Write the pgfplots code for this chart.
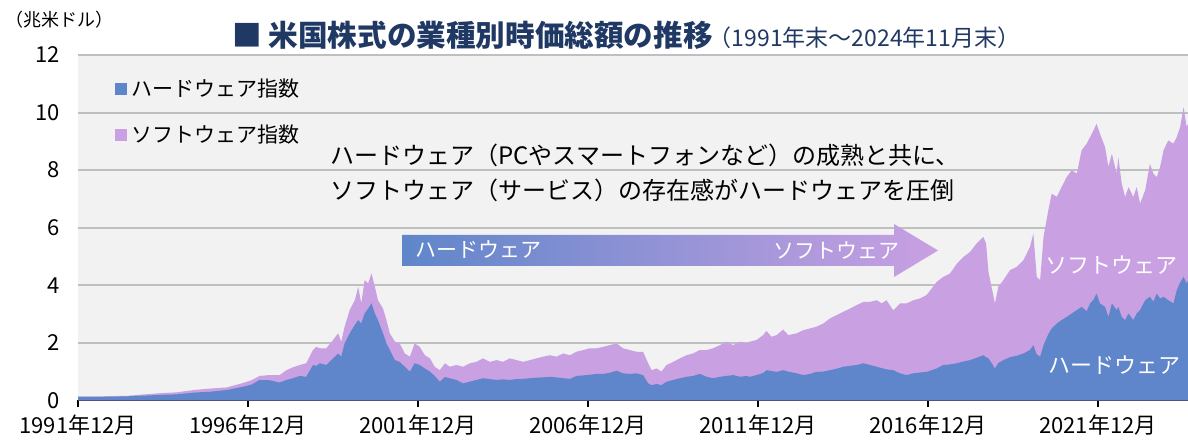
\documentclass[border=0pt]{standalone}
\usepackage{pgfplots}
\pgfplotsset{compat=1.18}
\usepackage{pgfplotstable}
\usepackage{fontspec}
\setmainfont{Noto Sans CJK JP}
\definecolor{hwc}{HTML}{5F86CA}
\definecolor{swc}{HTML}{C9A0E2}
\definecolor{bgc}{HTML}{F2F2F2}
\definecolor{gridc}{HTML}{BFBFBF}
\definecolor{navy}{HTML}{203864}

\pgfplotstableread{
t hw tot
1991.92 0.12 0.14
1992.50 0.12 0.14
1993.35 0.14 0.16
1994.32 0.19 0.25
1994.82 0.21 0.28
1995.32 0.27 0.36
1995.79 0.30 0.41
1996.29 0.36 0.45
1996.79 0.48 0.61
1997.02 0.55 0.70
1997.26 0.71 0.85
1997.55 0.70 0.88
1997.85 0.62 0.88
1998.05 0.71 1.05
1998.24 0.77 1.15
1998.44 0.85 1.23
1998.63 0.82 1.29
1998.83 1.23 1.75
1998.93 1.20 1.86
1999.03 1.29 1.81
1999.22 1.23 1.81
1999.42 1.46 2.10
1999.57 1.63 2.33
1999.66 1.52 2.04
1999.76 1.98 2.56
1999.91 2.33 3.14
2000.06 2.62 3.48
2000.16 2.79 3.95
2000.25 2.67 3.37
2000.35 3.02 4.18
2000.45 3.19 4.06
2000.55 3.37 4.41
2000.65 3.02 3.95
2000.74 2.79 3.48
2000.89 2.33 3.19
2000.99 1.98 2.79
2001.09 1.75 2.33
2001.24 1.40 2.04
2001.38 1.34 1.98
2001.53 1.17 1.63
2001.68 1.00 1.52
2001.82 1.29 1.98
2001.97 1.23 1.86
2002.12 1.11 1.57
2002.27 1.00 1.46
2002.41 0.85 1.17
2002.56 0.65 1.05
2002.71 0.81 1.29
2002.85 0.77 1.17
2003.05 0.71 1.23
2003.25 0.59 1.17
2003.44 0.65 1.29
2003.64 0.71 1.34
2003.83 0.77 1.46
2004.03 0.74 1.34
2004.23 0.71 1.40
2004.42 0.73 1.34
2004.62 0.71 1.46
2004.82 0.74 1.40
2005.01 0.75 1.34
2005.21 0.77 1.40
2005.40 0.79 1.46
2005.60 0.80 1.52
2005.80 0.82 1.57
2005.99 0.80 1.52
2006.19 0.77 1.63
2006.39 0.75 1.57
2006.58 0.85 1.69
2006.78 0.87 1.75
2006.97 0.89 1.81
2007.17 0.92 1.81
2007.37 0.92 1.86
2007.56 0.96 1.92
2007.76 1.03 1.98
2007.95 0.94 1.81
2008.15 0.92 1.75
2008.35 0.94 1.69
2008.54 0.88 1.69
2008.69 0.59 1.29
2008.79 0.53 1.05
2008.94 0.57 1.11
2009.08 0.53 1.00
2009.23 0.65 1.23
2009.43 0.71 1.34
2009.62 0.77 1.46
2009.82 0.82 1.57
2010.01 0.85 1.63
2010.21 0.92 1.75
2010.41 0.82 1.75
2010.60 0.77 1.81
2010.80 0.82 1.92
2010.99 0.85 2.04
2011.19 0.88 1.92
2011.39 0.82 2.04
2011.58 0.85 1.98
2011.68 0.82 2.04
2011.88 0.88 2.10
2012.07 0.95 2.27
2012.17 1.05 2.41
2012.32 1.02 2.21
2012.47 0.99 2.27
2012.66 1.05 2.46
2012.81 1.00 2.27
2013.06 0.94 2.33
2013.25 0.88 2.44
2013.45 0.92 2.50
2013.64 0.99 2.56
2013.84 1.00 2.67
2014.04 1.05 2.85
2014.23 1.10 2.96
2014.43 1.17 3.08
2014.63 1.20 3.19
2014.82 1.23 3.31
2015.02 1.29 3.42
2015.21 1.23 3.42
2015.41 1.17 3.48
2015.56 1.12 3.37
2015.70 1.08 3.48
2015.90 1.05 3.13
2016.10 0.94 3.37
2016.29 0.88 3.37
2016.49 0.94 3.48
2016.68 0.97 3.54
2016.88 0.99 3.66
2017.03 1.05 3.89
2017.18 1.11 4.12
2017.37 1.23 4.29
2017.57 1.25 4.41
2017.77 1.29 4.75
2017.96 1.35 4.98
2018.16 1.40 5.16
2018.35 1.48 5.45
2018.55 1.57 5.68
2018.63 1.50 5.45
2018.70 1.46 4.46
2018.79 1.30 3.95
2018.89 1.11 3.37
2018.99 1.30 3.95
2019.14 1.40 4.18
2019.33 1.50 4.52
2019.53 1.55 4.64
2019.73 1.63 4.87
2019.92 1.75 5.33
2020.02 1.92 5.80
2020.12 1.60 4.29
2020.22 1.52 4.18
2020.32 1.92 5.68
2020.46 2.30 6.60
2020.56 2.50 7.18
2020.71 2.67 7.07
2020.85 2.79 7.41
2021.00 2.90 7.76
2021.15 3.02 7.99
2021.30 3.14 7.88
2021.44 3.25 8.69
2021.59 3.10 8.92
2021.69 3.37 9.15
2021.79 3.50 9.38
2021.88 3.71 9.61
2021.98 3.37 9.26
2022.13 3.25 8.80
2022.23 2.90 8.11
2022.33 3.37 8.57
2022.47 3.14 7.88
2022.52 3.25 8.45
2022.62 2.90 7.53
2022.72 2.79 7.07
2022.82 3.02 7.41
2022.96 2.79 7.07
2023.06 3.02 7.41
2023.16 3.14 6.84
2023.31 3.48 7.30
2023.45 3.60 8.22
2023.55 3.43 7.88
2023.65 3.71 7.76
2023.75 3.54 8.11
2023.85 3.60 8.69
2023.99 3.48 9.03
2024.14 3.37 8.92
2024.24 3.83 9.15
2024.34 4.10 9.50
2024.44 4.29 10.19
2024.53 4.06 9.50
2024.57 4.18 9.60
}\data

\begin{document}
\begin{tikzpicture}
\useasboundingbox (0bp,0bp) rectangle (594bp,220bp);
\begin{axis}[
  at={(39bp,19.8bp)}, anchor=south west,
  scale only axis, width=555bp, height=172.7bp,
  xmin=1991.917, xmax=2024.57, ymin=0, ymax=12,
  ytick={0,2,4,6,8,10,12},
  xtick={1991.917,1996.917,2001.917,2006.917,2011.917,2016.917,2021.917},
  xticklabels={1991年12月,1996年12月,2001年12月,2006年12月,2011年12月,2016年12月,2021年12月},
  axis x line*=bottom, axis y line*=left,
  y axis line style={draw=none}, ytick style={draw=none},
  x axis line style={black, line width=0.9bp},
  xtick style={black, line width=0.9bp},
  tick align=outside, major tick length=3.5bp,
  ymajorgrids, grid style={gridc, line width=1bp},
  axis background/.style={fill=bgc},
  tick label style={font=\fontsize{11bp}{13bp}\selectfont, text=black},
  yticklabel style={xshift=-2bp},
  /pgf/number format/assume math mode=true,
  legend style={at={(0.033,0.945)}, anchor=north west, draw=none, fill=none,
    inner sep=0pt, row sep=9bp, font=\fontsize{10.5bp}{12bp}\selectfont},
  legend cell align=left,
  legend image code/.code={\fill[#1] (0bp,-3bp) rectangle (6bp,3bp);},
  clip=true,
]
\addplot[fill=swc, draw=none, forget plot] table[x=t, y=tot] {\data} \closedcycle;
\addplot[fill=hwc, draw=none, forget plot] table[x=t, y=hw] {\data} \closedcycle;
\addlegendimage{fill=hwc, draw=none}
\addlegendentry{ハードウェア指数}
\addlegendimage{fill=swc, draw=none}
\addlegendentry{ソフトウェア指数}
\end{axis}
% title and unit
\node[anchor=west, text=navy, inner sep=0pt] at (116bp,202.5bp)
  {\fontsize{14.8bp}{16bp}\selectfont\bfseries ■ 米国株式の業種別時価総額の推移\fontsize{11.5bp}{13bp}\selectfont\mdseries\kern-2bp（1991年末～2024年11月末）};
\node[anchor=west, inner sep=0pt] at (2.5bp,210bp) {\fontsize{9bp}{11bp}\selectfont （兆米ドル）};
% annotation
\node[anchor=west, inner sep=0pt] at (165bp,142.5bp) {\fontsize{12bp}{14bp}\selectfont ハードウェア（PCやスマートフォンなど）の成熟と共に、};
\node[anchor=west, inner sep=0pt] at (165bp,125bp) {\fontsize{12bp}{14bp}\selectfont ソフトウェア（サービス）の存在感がハードウェアを圧倒};
% gradient arrow
\shade[left color=hwc, right color=swc] (201bp,87bp) -- (447bp,87bp) -- (447bp,81.5bp) -- (469bp,94.75bp) -- (447bp,108bp) -- (447bp,102.5bp) -- (201bp,102.5bp) -- cycle;
\node[anchor=west, text=white, inner sep=0pt] at (207.5bp,95bp) {\fontsize{10.5bp}{12bp}\selectfont ハードウェア};
\node[anchor=east, text=white, inner sep=0pt] at (450bp,95bp) {\fontsize{10.5bp}{12bp}\selectfont ソフトウェア};
% in-chart labels
\node[anchor=west, text=white, inner sep=0pt] at (522.5bp,87.5bp) {\fontsize{11bp}{13bp}\selectfont ソフトウェア};
\node[anchor=west, text=white, inner sep=0pt] at (524bp,37.5bp) {\fontsize{11bp}{13bp}\selectfont ハードウェア};
\end{tikzpicture}
\end{document}
